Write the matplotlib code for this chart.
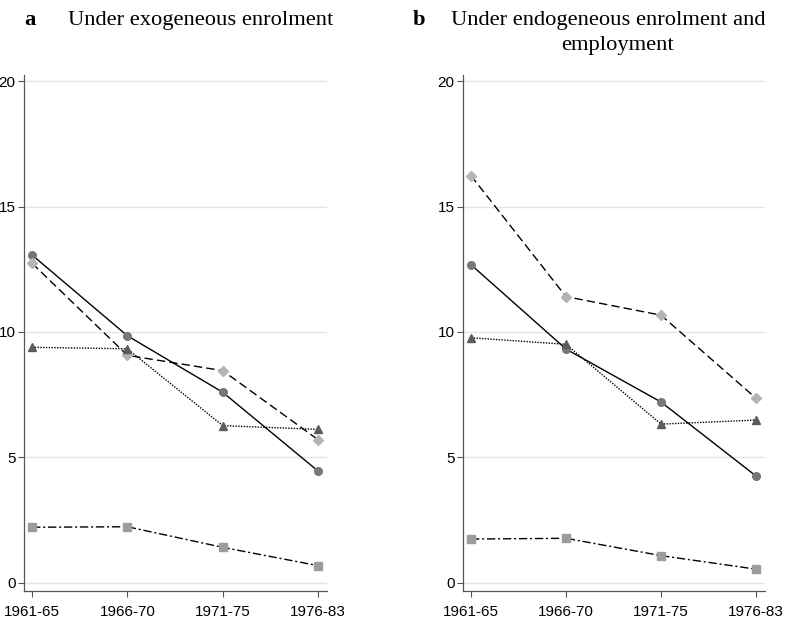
import matplotlib
matplotlib.use("Agg")
import matplotlib.pyplot as plt

periods = ["1961-65", "1966-70", "1971-75", "1976-83"]

# panel a: under exogeneous enrolment
a_circle = [13.07, 9.85, 7.60, 4.46]
a_diamond = [12.74, 9.07, 8.46, 5.71]
a_triangle = [9.39, 9.33, 6.27, 6.12]
a_square = [2.22, 2.24, 1.42, 0.69]

# panel b: under endogeneous enrolment and employment
b_circle = [12.68, 9.32, 7.21, 4.26]
b_diamond = [16.23, 11.41, 10.67, 7.36]
b_triangle = [9.77, 9.51, 6.33, 6.49]
b_square = [1.75, 1.78, 1.09, 0.55]

yticks = [0, 5, 10, 15, 20]

styles = [
    dict(marker="o", color="black", mfc="#777777", mec="#777777", ls="-", ms=5.5),
    dict(marker="D", color="black", mfc="#b4b4b4", mec="#b4b4b4", ls=(0, (6, 3)), ms=5.2),
    dict(marker="^", color="black", mfc="#5c5c5c", mec="#5c5c5c", ls=(0, (1, 1)), ms=6),
    dict(marker="s", color="black", mfc="#9c9c9c", mec="#9c9c9c", ls=(0, (6, 2, 1.5, 2)), ms=5.5),
]

fig = plt.figure(figsize=(7.88, 6.22), dpi=100)
ax_a = fig.add_axes([24 / 788, 31 / 622, 303 / 788, 516 / 622])
ax_b = fig.add_axes([463 / 788, 31 / 622, 302 / 788, 516 / 622])

x = list(range(len(periods)))
for ax, series in [(ax_a, [a_circle, a_diamond, a_triangle, a_square]),
                   (ax_b, [b_circle, b_diamond, b_triangle, b_square])]:
    for ys, st in zip(series, styles):
        ax.plot(x, ys, lw=1.0, zorder=3, **st)
    ax.set_xlim(-0.084, 3.094)
    ax.set_ylim(-0.32, 20.24)
    ax.set_xticks(x)
    ax.set_xticklabels(periods, fontsize=11, family="Liberation Sans")
    ax.set_yticks(yticks)
    ax.set_yticklabels([str(v) for v in yticks], fontsize=11, family="Liberation Sans")
    ax.grid(axis="y", color="#e4e4e4", lw=1)
    ax.set_axisbelow(True)
    for s in ["top", "right"]:
        ax.spines[s].set_visible(False)
    for s in ["left", "bottom"]:
        ax.spines[s].set_color("#555555")
        ax.spines[s].set_linewidth(0.9)
    ax.tick_params(axis="x", length=4, width=0.8, color="#555555", pad=6)
    ax.tick_params(axis="y", length=4, width=0.8, color="#555555", pad=2)

serif = "Liberation Serif"
fs = 16.2
fig.text(24 / 788, 1 - 25 / 622, "a", fontsize=fs, family=serif, weight="bold", va="baseline")
fig.text(68 / 788, 1 - 25 / 622, "Under exogeneous enrolment", fontsize=fs, family=serif, va="baseline")
fig.text(413 / 788, 1 - 25 / 622, "b", fontsize=fs, family=serif, weight="bold", va="baseline")
fig.text(608 / 788, 1 - 25 / 622, "Under endogeneous enrolment and", fontsize=fs,
         family=serif, va="baseline", ha="center")
fig.text(617 / 788, 1 - 50 / 622, "employment", fontsize=fs, family=serif,
         va="baseline", ha="center")

fig.savefig("out.png", dpi=100)
